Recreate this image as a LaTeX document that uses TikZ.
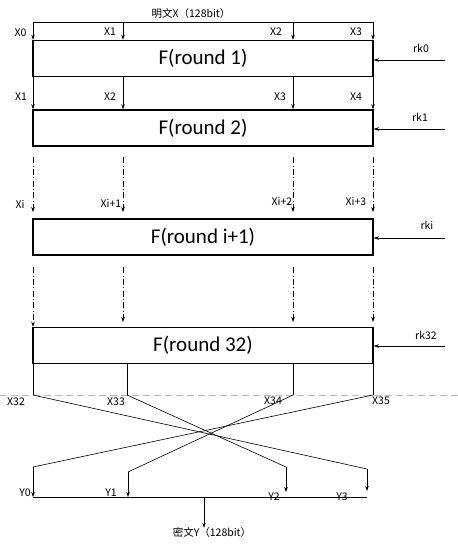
\documentclass[tikz,border=0pt]{standalone}
\usepackage{fontspec}
\setmainfont{Carlito}
\newfontfamily\cjkf{Noto Sans CJK SC}
\usetikzlibrary{arrows.meta}
\begin{document}
\begin{tikzpicture}[x=1pt,y=-1pt,
  rbox/.style={draw, line width=1.5pt, minimum width=340pt, minimum height=36pt, inner sep=0pt, font=\fontsize{21}{21}\selectfont},
  lab/.style={font=\cjkf\fontsize{10.5}{11}\selectfont, inner sep=0pt},
  ln/.style={line width=0.6pt},
  arr/.style={ln, -{Stealth[length=5pt,width=3.5pt]}},
  dd/.style={arr, dash pattern=on 6pt off 2.5pt on 0.8pt off 2.5pt},
]
\useasboundingbox[fill=white] (0,0) rectangle (458,550);

% boxes
\node[rbox] (b1) at (203,58.5) {F(round 1)};
\node[rbox] (b2) at (203,128) {F(round 2)};
\node[rbox] (b3) at (203,237) {F(round i+1)};
\node[rbox] (b4) at (203,345.5) {F(round 32)};

% columns
\coordinate (cA) at (33,0);
\coordinate (cB) at (123,0);
\coordinate (cC) at (293,0);
\coordinate (cD) at (373,0);

% top input
\node[lab] (title) at (191,14) {明文X（128bit）};
\coordinate (t0) at (33,22);
\coordinate (t3) at (373,22);
\draw[ln] (t0) -- (t3);
\foreach \c in {cA,cB,cC,cD}{
  \draw[arr] (\c |- t0) -- (\c |- b1.north);
}
\node[lab] (x0a) at (20.5,33) {X0};
\node[lab] (x1a) at (110,32) {X1};
\node[lab] (x2a) at (276,32) {X2};
\node[lab] (x3a) at (356,32) {X3};

% between box1 and box2
\foreach \c in {cA,cB,cC,cD}{
  \draw[arr] (\c |- b1.south) -- (\c |- b2.north);
}
\node[lab] (x1b) at (21,97) {X1};
\node[lab] (x2b) at (110,97) {X2};
\node[lab] (x3b) at (280,97) {X3};
\node[lab] (x4b) at (356,97) {X4};

% dashed between box2 and box3
\coordinate (d1s) at (0,157);
\coordinate (d1e) at (0,212);
\foreach \c in {cA,cB,cC,cD}{
  \draw[dd] (\c |- d1s) -- (\c |- d1e);
}
\node[lab] (xi) at (20,204) {Xi};
\node[lab] (xi1) at (111,203) {Xi+1};
\node[lab] (xi2) at (282,201) {Xi+2};
\node[lab] (xi3) at (356,201) {Xi+3};

% dashed between box3 and box4
\coordinate (d2s) at (0,267);
\coordinate (d2e) at (0,322);
\foreach \c in {cB,cC,cD}{
  \draw[dd] (\c |- d2s) -- (\c |- d2e);
}
\draw[dd] (cA |- d2s) -- (cA |- b4.north);

% round keys
\coordinate (k0) at (445,60);
\coordinate (k1) at (445,129);
\coordinate (ki) at (445,238);
\coordinate (k32) at (445,346);
\draw[arr] (k0) -- (k0 -| b1.east);
\draw[arr] (k1) -- (k1 -| b2.east);
\draw[arr] (ki) -- (ki -| b3.east);
\draw[arr] (k32) -- (k32 -| b4.east);
\node[lab] (rk0) at (421,48) {rk0};
\node[lab] (rk1) at (420,117) {rk1};
\node[lab] (rki) at (427,225) {rki};
\node[lab] (rk32) at (426,335) {rk32};

% gray separator
\coordinate (g1) at (0,395);
\coordinate (g2) at (458,395);
\draw[gray!55, line width=0.6pt, dash pattern=on 7pt off 4pt] (g1) -- (g2);

% outputs of last round
\coordinate (x32) at (33,395);
\coordinate (x33) at (127,395);
\coordinate (x34) at (293,395);
\coordinate (x35) at (373,395);
\draw[ln] (x32 |- b4.south) -- (x32);
\draw[ln] (x33 |- b4.south) -- (x33);
\draw[ln] (x34 |- b4.south) -- (x34);
\draw[ln] (x35 |- b4.south) -- (x35);
\node[lab] (lx32) at (16,402) {X32};
\node[lab] (lx33) at (116,402) {X33};
\node[lab] (lx34) at (273,401) {X34};
\node[lab] (lx35) at (381,401) {X35};

% reverse permutation
\coordinate (y0s) at (33,467);
\coordinate (y1s) at (128,472);
\coordinate (y2s) at (286,467);
\coordinate (y3s) at (367,469);
\draw[ln] (x32) -- (y3s);
\draw[ln] (x33) -- (y2s);
\draw[ln] (x34) -- (y1s);
\draw[ln] (x35) -- (y0s);

% output bus
\coordinate (bl) at (33,497);
\coordinate (br) at (367,497);
\coordinate (bm) at (204,497);
\coordinate (y2e) at (286,492);
\coordinate (y3e) at (367,491);
\draw[ln] (bl) -- (br);
\draw[arr] (y0s) -- (bl);
\draw[arr] (y1s) -- (y1s |- bl);
\draw[arr] (y2s) -- (y2e);
\draw[arr] (y3s) -- (y3e);
\node[lab] (ly0) at (25,493) {Y0};
\node[lab] (ly1) at (111,493) {Y1};
\node[lab] (ly2) at (274,497) {Y2};
\node[lab] (ly3) at (342,497) {Y3};

\node[lab] (out) at (212,533) {密文Y（128bit）};
\draw[arr] (bm) -- (bm |- out.north);
\end{tikzpicture}
\end{document}
